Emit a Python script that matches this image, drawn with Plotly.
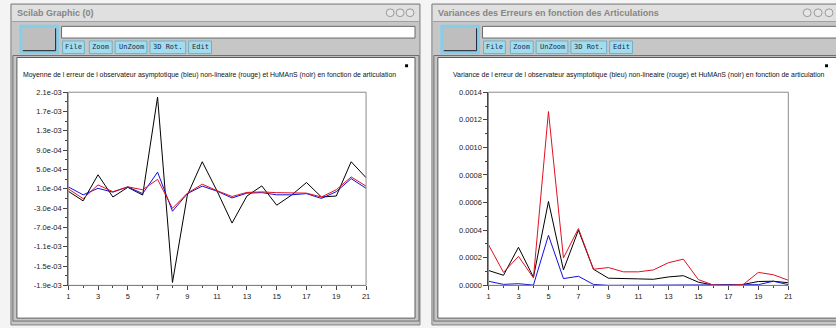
import plotly.graph_objects as go

W, H = 836, 328

# ---- data -------------------------------------------------------------
articulations = list(range(1, 22))

# mean error per articulation
moy_noir = [0.5e-4, -1.5e-4, 3.9e-4, -0.7e-4, 1.3e-4, -0.3e-4, 2.0e-3, -1.84e-3, -0.3e-4, 6.6e-4,
            0.5e-4, -6.1e-4, -0.5e-4, 1.6e-4, -2.4e-4, -0.3e-4, 2.3e-4, -0.7e-4, -0.5e-4, 6.6e-4, 3.3e-4]
moy_rouge = [1.0e-4, -1.05e-4, 1.8e-4, 0.4e-4, 1.4e-4, 0.8e-4, 2.95e-4, -3.05e-4, 0.1e-4, 1.95e-4,
             0.6e-4, -0.6e-4, 0.25e-4, 0.35e-4, 0.2e-4, 0.2e-4, 0.1e-4, -0.7e-4, 0.8e-4, 3.45e-4, 1.55e-4]
moy_bleu = [1.4e-4, -0.25e-4, 1.1e-4, 0.3e-4, 1.4e-4, 0.0e-4, 4.45e-4, -3.65e-4, 0.0e-4, 1.55e-4,
            0.5e-4, -0.9e-4, 0.1e-4, 0.2e-4, -0.25e-4, -0.25e-4, 0.0e-4, -1.0e-4, 0.4e-4, 3.1e-4, 1.1e-4]

# variance of the error per articulation
var_noir = [1.08e-4, 0.73e-4, 2.76e-4, 0.59e-4, 6.08e-4, 1.12e-4, 4.0e-4, 1.17e-4, 0.52e-4, 0.52e-4,
            0.47e-4, 0.44e-4, 0.61e-4, 0.7e-4, 0.23e-4, 0.02e-4, 0.02e-4, 0.07e-4, 0.28e-4, 0.3e-4, 0.19e-4]
var_rouge = [2.95e-4, 0.94e-4, 2.1e-4, 0.54e-4, 1.26e-3, 1.99e-4, 4.12e-4, 1.17e-4, 1.29e-4, 0.98e-4,
             0.98e-4, 1.12e-4, 1.64e-4, 1.9e-4, 0.42e-4, 0.02e-4, 0.0, 0.07e-4, 0.94e-4, 0.77e-4, 0.37e-4]
var_bleu = [0.3e-4, 0.07e-4, 0.12e-4, 0.02e-4, 3.63e-4, 0.49e-4, 0.66e-4, 0.07e-4, 0.0, 0.0,
            0.0, 0.0, 0.0, 0.05e-4, 0.0, 0.0, 0.0, 0.02e-4, 0.05e-4, 0.3e-4, 0.05e-4]

x_ticks = list(range(1, 22, 2))
moy_ticks = [2.1e-3 - 4e-4 * i for i in range(11)]
moy_labels = [f"{v:.1e}" for v in moy_ticks]
var_ticks = [0.0002 * i for i in range(8)]
var_labels = [f"{v:.4f}" for v in var_ticks]

titre_moy = ("Moyenne de l erreur de l observateur asymptotique (bleu) non-lineaire (rouge) "
             "et HuMAnS (noir) en fonction de articulation")
titre_var = ("Variance de l erreur de l observateur asymptotique (bleu) non-lineaire (rouge) "
             "et HuMAnS (noir) en fonction de articulation")
fenetre_gauche = "Scilab Graphic (0)"
fenetre_droite = "Variances des Erreurs en fonction des Articulations"
boutons = ["File", "Zoom", "UnZoom", "3D Rot.", "Edit"]

# ---- helpers (pixel -> paper) ----------------------------------------
def px(x):
    return x / W


def py(y):
    return 1 - y / H


shapes = []
annotations = []


def rect(x0, y0, x1, y1, fill=None, line=None, lw=1, layer="below"):
    shapes.append(dict(type="rect", xref="paper", yref="paper",
                       x0=px(x0), x1=px(x1), y0=py(y1), y1=py(y0),
                       fillcolor=fill or "rgba(0,0,0,0)",
                       line=dict(color=line or "rgba(0,0,0,0)", width=lw if line else 0),
                       layer=layer))


def seg(x0, y0, x1, y1, color, lw=1, layer="below"):
    shapes.append(dict(type="line", xref="paper", yref="paper",
                       x0=px(x0), x1=px(x1), y0=py(y0), y1=py(y1),
                       line=dict(color=color, width=lw), layer=layer))


def circle(cx, cy, r, color):
    shapes.append(dict(type="circle", xref="paper", yref="paper",
                       x0=px(cx - r), x1=px(cx + r), y0=py(cy + r), y1=py(cy - r),
                       fillcolor="#e6e6e6", line=dict(color=color, width=1), layer="below"))


def text(x, y, s, size, color="#000", family="Liberation Sans, Arial", xanchor="left", bold=False):
    annotations.append(dict(xref="paper", yref="paper", x=px(x), y=py(y), text=f"<b>{s}</b>" if bold else s,
                            showarrow=False, xanchor=xanchor, yanchor="middle",
                            font=dict(size=size, color=color, family=family)))


# toolbar button extents, relative to the window's left edge
BTN = [(52, 74), (79, 102), (105, 137), (140, 176), (179, 202)]


def window(x0, x1, title, canvas_x1, square_x, icons_x):
    # frame and title bar
    rect(x0, 0, x1, 330, fill="#c6c6c6", line="#808080")
    rect(x0 + 1, 1, x1 - 1, 18, fill="#e0e0e0")
    seg(x0 + 1, 18, x1 - 1, 18, "#a0a0a0")
    text(x0 + 4, 9.5, title, 9, color="#858585", family="Liberation Sans, Arial", bold=True)
    for cx in icons_x:
        circle(cx, 9, 4, "#9a9a9a")
    # big button
    rect(x0 + 10, 23, x0 + 47, 50, fill="#bebebe", line="#88cde8", lw=3)
    seg(x0 + 12, 48, x0 + 45, 48, "#202030", 1)
    seg(x0 + 45, 25, x0 + 45, 48, "#202030", 1)
    # text field
    rect(x0 + 51, 23, min(x1 - 5, W + 5), 35, fill="#ffffff", line="#6a6a6a")
    # toolbar buttons
    for (bx0, bx1), lab in zip(BTN, boutons):
        rect(x0 + bx0, 38, x0 + bx1, 51, fill="#a2ddef", line="#74aec2")
        text(x0 + (bx0 + bx1) / 2, 44.5, lab, 7, color="#1c2a40",
             family="DejaVu Sans Mono, Liberation Mono", xanchor="center")
    # drawing canvas
    rect(x0 + 2, 53, canvas_x1 + 4, 326, line="#6e6e6e")
    rect(x0 + 6, 55, canvas_x1, 323, fill="#ffffff", line="#5a5a5a")
    rect(square_x, 62, square_x + 3, 65, fill="#000000")


window(9, 421, fenetre_gauche, 416, 406, (391, 401, 411))
window(433, 846, fenetre_droite, 846, 829, (811, 822, 833))

text(209.5, 73, titre_moy, 6.9, color="#111", xanchor="center")
text(642, 73, titre_var, 6.9, color="#111", xanchor="center")

# ---- figure -----------------------------------------------------------
fig = go.Figure()

lw = 1
for ys, col in ((moy_noir, "#000000"), (moy_bleu, "#1010e0"), (moy_rouge, "#e01020")):
    fig.add_trace(go.Scatter(x=articulations, y=ys, mode="lines", line=dict(color=col, width=lw),
                             xaxis="x", yaxis="y", showlegend=False, hoverinfo="skip"))
for ys, col in ((var_noir, "#000000"), (var_bleu, "#1010e0"), (var_rouge, "#e01020")):
    fig.add_trace(go.Scatter(x=articulations, y=ys, mode="lines", line=dict(color=col, width=lw),
                             xaxis="x2", yaxis="y2", showlegend=False, hoverinfo="skip"))

# plot areas in pixels
L = (66.7, 366.7)
R = (490, 792)
TOP, BOT = 90.7, 289.3

# light frame around each plot area
for (a, b) in (L, R):
    rect(a, TOP, b, BOT, line="#8c8c8c", layer="above")

tick_font = dict(size=7.5, color="#222", family="Liberation Sans, Arial")
common_x = dict(range=[1, 21], tickmode="array", tickvals=x_ticks, ticktext=[str(v) for v in x_ticks],
                ticks="outside", ticklen=4, tickcolor="#444", showline=True, linecolor="#444",
                linewidth=1, showgrid=False, zeroline=False, tickfont=tick_font,
                minor=dict(tickmode="array", tickvals=list(range(2, 21, 2)), ticks="outside",
                           ticklen=2, tickcolor="#444"))
common_y = dict(ticks="outside", ticklen=4, tickcolor="#444", showline=True, linecolor="#444",
                linewidth=1, showgrid=False, zeroline=False, tickfont=tick_font, tickmode="array")

fig.update_layout(
    width=W, height=H, margin=dict(l=0, r=0, t=0, b=0),
    paper_bgcolor="#f4f4f4", plot_bgcolor="#ffffff",
    xaxis=dict(domain=[px(L[0]), px(L[1])], anchor="y", **common_x),
    yaxis=dict(domain=[py(BOT), py(TOP)], anchor="x", range=[-1.9e-3, 2.1e-3],
               tickvals=moy_ticks, ticktext=moy_labels,
               minor=dict(tickmode="array", tickvals=[v - 2e-4 for v in moy_ticks[:-1]],
                          ticks="outside", ticklen=2, tickcolor="#444"),
               **common_y),
    xaxis2=dict(domain=[px(R[0]), px(R[1])], anchor="y2", **common_x),
    yaxis2=dict(domain=[py(BOT), py(TOP)], anchor="x2", range=[0, 0.0014],
                tickvals=var_ticks, ticktext=var_labels,
                minor=dict(tickmode="array", tickvals=[v + 1e-4 for v in var_ticks[:-1]],
                           ticks="outside", ticklen=2, tickcolor="#444"),
                **common_y),
    shapes=shapes, annotations=annotations,
)

fig.write_html("out.html")
